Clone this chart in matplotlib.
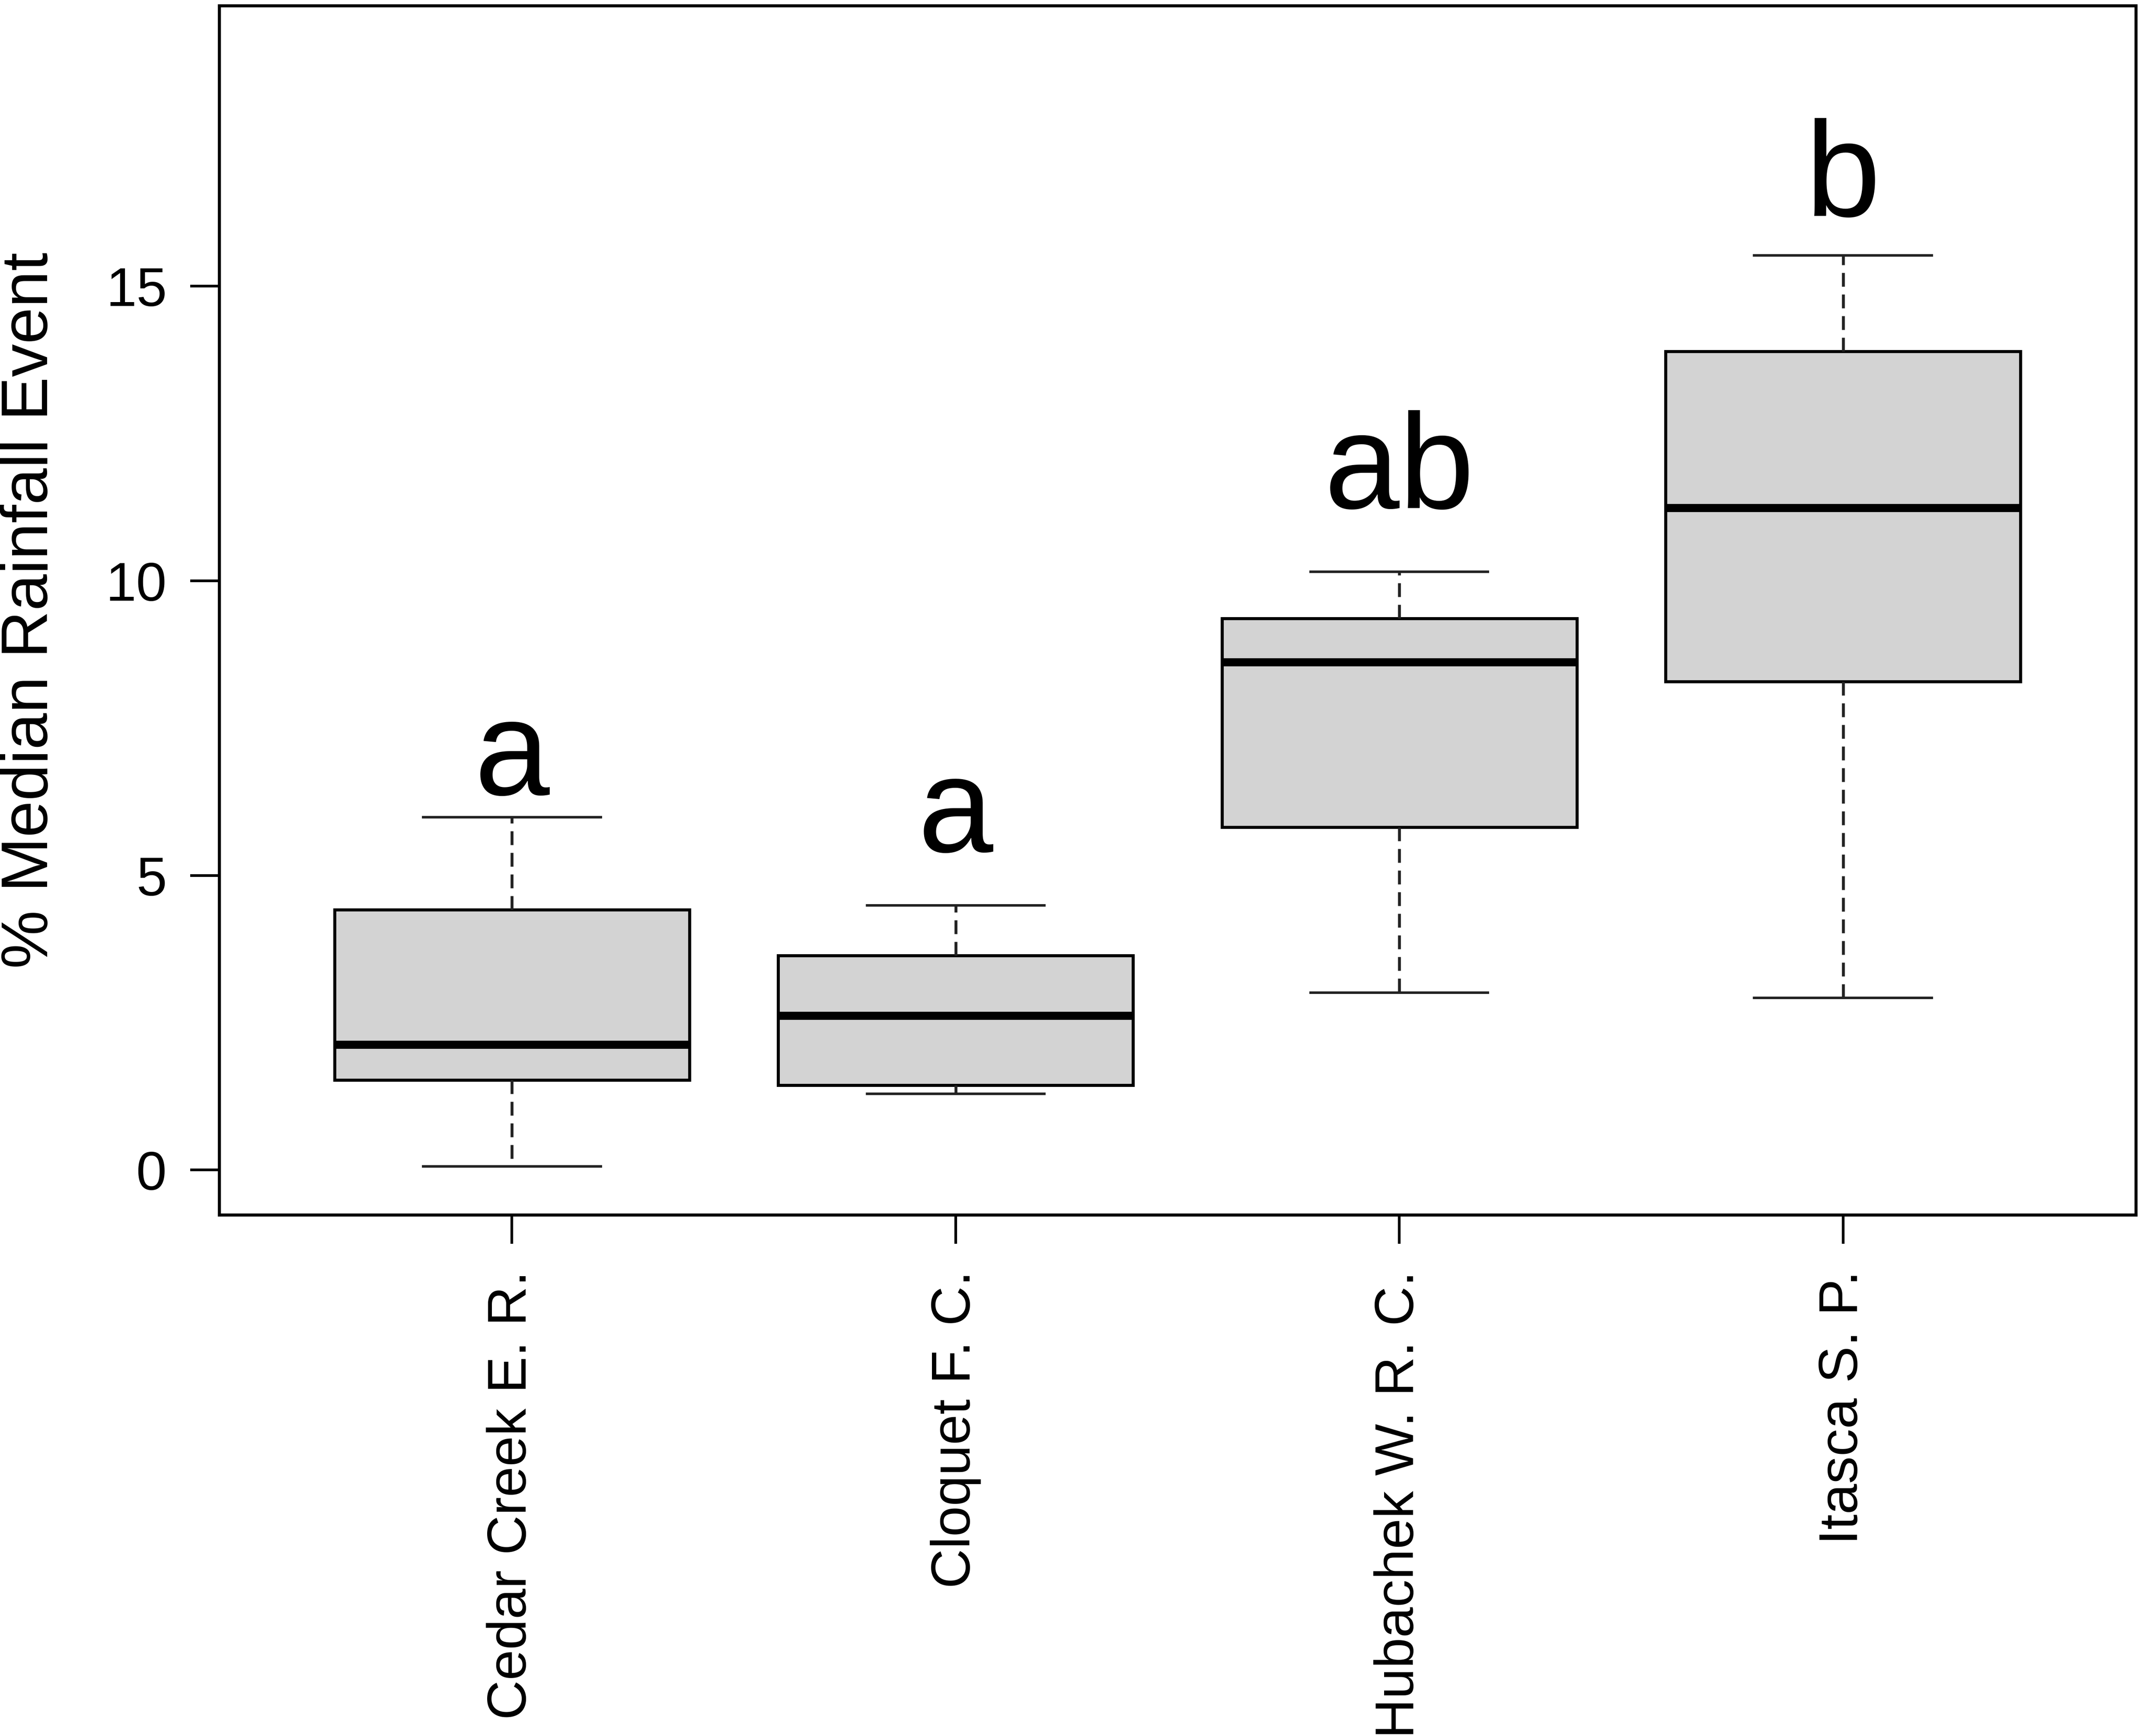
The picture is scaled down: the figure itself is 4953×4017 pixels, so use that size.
import matplotlib
matplotlib.use('Agg')
import matplotlib.pyplot as plt

plt.rcParams['font.family'] = ['Liberation Sans', 'DejaVu Sans']

sites = ['Cedar Creek E. R.', 'Cloquet F. C.', 'Hubachek W. R. C.', 'Itasca S. P.']
whis_lo = [0.06, 1.29, 3.01, 2.92]
q1 = [1.53, 1.44, 5.82, 8.29]
med = [2.13, 2.62, 8.62, 11.24]
q3 = [4.42, 3.64, 9.36, 13.89]
whis_hi = [5.99, 4.49, 10.15, 15.52]

letters = ['a', 'a', 'ab', 'b']
letter_y = [6.37, 5.40, 11.23, 16.19]

stats = []
for i in range(len(sites)):
    stats.append(dict(label=sites[i], whislo=whis_lo[i], q1=q1[i], med=med[i],
                      q3=q3[i], whishi=whis_hi[i], fliers=[]))

W, H = 4953, 4017
fig = plt.figure(figsize=(W / 300, H / 300), dpi=300)
ax = fig.add_axes([507 / W, 1 - 2811 / H, 4434 / W, (2811 - 13) / H])

pos = [1, 2, 3, 4]
ax.bxp(stats, positions=pos, widths=0.8, capwidths=0.4, patch_artist=True,
       showfliers=False,
       boxprops=dict(facecolor='#d3d3d3', edgecolor='black', linewidth=1.7),
       medianprops=dict(color='black', linewidth=4.5),
       whiskerprops=dict(color='#222222', linewidth=1.6, linestyle=(0, (4.8, 2.7))),
       capprops=dict(color='#222222', linewidth=1.4))

for x, t, y in zip(pos, letters, letter_y):
    ax.text(x, y, t, ha='center', va='baseline', fontsize=75)

ax.set_xlim(0.34, 4.66)
ax.set_ylim(-0.76, 19.76)
ax.set_yticks([0, 5, 10, 15])
ax.set_xticks(pos)
ax.set_xticklabels(sites, rotation=90)

for s in ax.spines.values():
    s.set_linewidth(1.7)
ax.tick_params(axis='both', length=16, width=1.5, labelsize=30.5)
ax.tick_params(axis='x', pad=15)
ax.tick_params(axis='y', pad=13)

ax.set_ylabel('% Median Rainfall Event', fontsize=36.5, labelpad=25)

fig.savefig('out.png', dpi=300)
